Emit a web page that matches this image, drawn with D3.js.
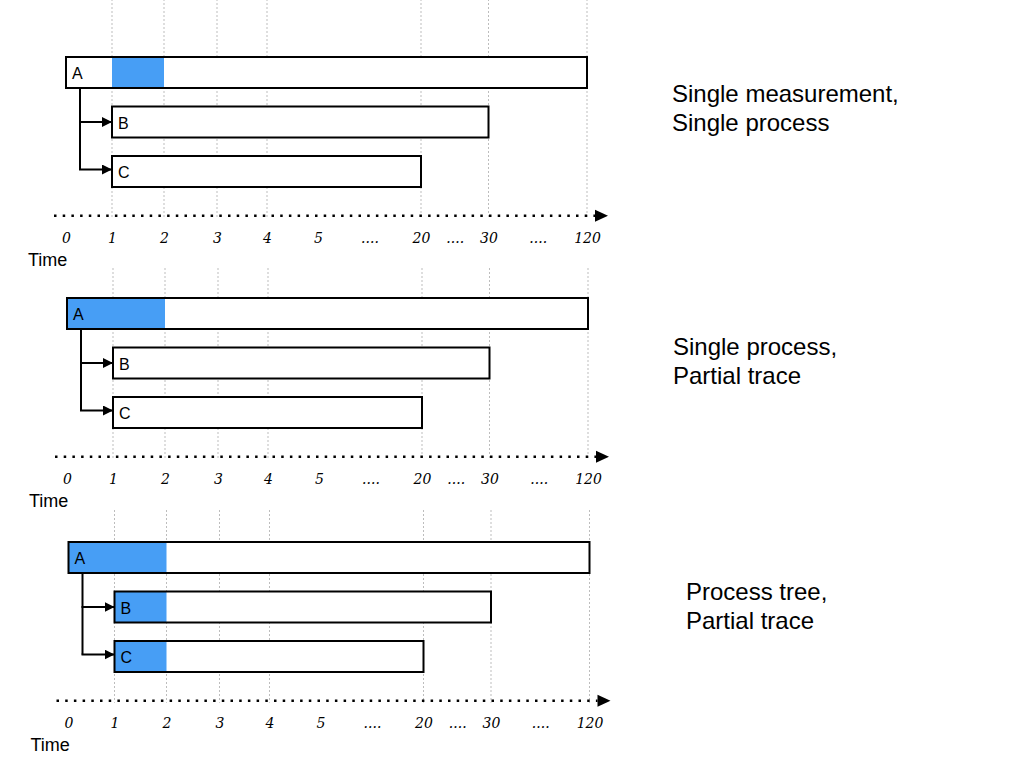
<!DOCTYPE html>
<html>
<head>
<meta charset="utf-8">
<script src="https://d3js.org/d3.v7.min.js"></script>
<style>
  body { margin: 0; background: #fff; }
  svg { display: block; }
</style>
</head>
<body>
<svg id="chart"></svg>
<script>
// processes and their lifetimes
const processes = ['A', 'B', 'C'];
const procStart = [0, 1, 1];
const procEnd = [120, 30, 20];

// one panel per tracing mode
const panelTitles = [
    ['Single measurement,', 'Single process'],
    ['Single process,', 'Partial trace'],
    ['Process tree,', 'Partial trace']
];
// traced window for each process in each panel (null = not traced)
const traceFrom = [[1, null, null], [0, null, null], [0, 1, 1]];
const traceTo = [[2, null, null], [2, null, null], [2, 2, 2]];

// broken time axis
const tickValues = [0, 1, 2, 3, 4, 5, 20, 30, 120];
const gapTicks = [12.5, 25, 75];   // the "...." labels sit in these gaps
const gridValues = [1, 2, 3, 4, 20, 30, 120];
const axisTitle = 'Time';

const width = 1024, height = 768;
const blue = '#479ef5';

const svg = d3.select('#chart')
    .attr('width', width)
    .attr('height', height);

// piecewise scale: the axis is not linear, the gaps are squeezed
const x = d3.scaleLinear()
    .domain(tickValues)
    .range([66, 112, 164, 217, 267, 318, 421, 488.5, 587]);

const rowY = d3.scalePoint()
    .domain(processes)
    .range([57, 156]);
const barH = 31;

// panel placement
const panelDx = [0, 1, 2.5];
const panelDy = [0, 241, 485];
const gridTop = [-5, 268, 510];
const titleX = [672, 673, 686];
const titleY = [102, 355, 600];
const axisY = 215.7;

svg.append('defs').append('marker')
    .attr('id', 'head')
    .attr('viewBox', '0 0 10 10')
    .attr('refX', 10)
    .attr('refY', 5)
    .attr('markerUnits', 'userSpaceOnUse')
    .attr('markerWidth', 10)
    .attr('markerHeight', 10)
    .attr('orient', 'auto')
    .append('path')
    .attr('d', 'M0,0L10,5L0,10Z')
    .attr('fill', '#000');

panelTitles.forEach((title, p) => {
    let g = svg.append('g')
        .attr('transform', `translate(${panelDx[p]},${panelDy[p]})`);

    // dotted grid
    g.selectAll('.grid')
        .data(gridValues)
        .enter()
        .append('line')
        .attr('class', 'grid')
        .attr('x1', d => x(d))
        .attr('x2', d => x(d))
        .attr('y1', gridTop[p] - panelDy[p])
        .attr('y2', axisY + 2)
        .attr('stroke', '#bdbdbd')
        .attr('stroke-width', 1)
        .attr('stroke-dasharray', '2,2');

    // parent -> child connectors
    let cx = x(procStart[0]) + 14;
    g.append('line')
        .attr('x1', cx).attr('x2', cx)
        .attr('y1', rowY('A') + barH)
        .attr('y2', rowY('C') + barH / 2 - 2)
        .attr('stroke', '#000')
        .attr('stroke-width', 2);

    g.selectAll('.link')
        .data(processes.slice(1))
        .enter()
        .append('line')
        .attr('class', 'link')
        .attr('x1', cx - 1)
        .attr('x2', (d, i) => x(procStart[i + 1]))
        .attr('y1', d => rowY(d) + barH / 2 - (d === 'C' ? 2 : 0))
        .attr('y2', d => rowY(d) + barH / 2 - (d === 'C' ? 2 : 0))
        .attr('stroke', '#000')
        .attr('stroke-width', 2)
        .attr('marker-end', 'url(#head)');

    // bars
    let bars = g.selectAll('.proc')
        .data(processes)
        .enter()
        .append('g')
        .attr('class', 'proc');

    bars.append('rect')
        .attr('x', (d, i) => x(procStart[i]))
        .attr('y', d => rowY(d))
        .attr('width', (d, i) => x(procEnd[i]) - x(procStart[i]))
        .attr('height', barH)
        .attr('fill', '#fff');

    bars.filter((d, i) => traceFrom[p][i] !== null)
        .append('rect')
        .attr('x', d => x(traceFrom[p][processes.indexOf(d)]))
        .attr('y', d => rowY(d))
        .attr('width', d => {
            let i = processes.indexOf(d);
            return x(traceTo[p][i]) - x(traceFrom[p][i]);
        })
        .attr('height', barH)
        .attr('fill', blue);

    bars.append('rect')
        .attr('x', (d, i) => x(procStart[i]))
        .attr('y', d => rowY(d))
        .attr('width', (d, i) => x(procEnd[i]) - x(procStart[i]))
        .attr('height', barH)
        .attr('fill', 'none')
        .attr('stroke', '#000')
        .attr('stroke-width', 2);

    bars.append('text')
        .attr('x', (d, i) => x(procStart[i]) + 6)
        .attr('y', d => rowY(d) + 22)
        .attr('font-family', 'Liberation Sans, Arial, sans-serif')
        .attr('font-size', 16)
        .text(d => d);

    // dotted time axis with arrow
    g.append('line')
        .attr('x1', x(0) - 12)
        .attr('x2', x(120) + 8)
        .attr('y1', axisY)
        .attr('y2', axisY)
        .attr('stroke', '#000')
        .attr('stroke-width', 2.5)
        .attr('stroke-dasharray', '2.5,6.2');
    g.append('path')
        .attr('d', `M${x(120) + 8},${axisY - 6}L${x(120) + 21},${axisY}L${x(120) + 8},${axisY + 6}Z`)
        .attr('fill', '#000');

    let axis = d3.axisBottom(x)
        .tickValues(tickValues.concat(gapTicks))
        .tickSize(0)
        .tickPadding(17)
        .tickFormat(d => gapTicks.includes(d) ? '....' : d);

    let axisG = g.append('g')
        .attr('transform', `translate(0,${axisY})`)
        .call(axis);
    axisG.select('.domain').remove();
    axisG.selectAll('text')
        .attr('font-family', 'DejaVu Serif, serif')
        .attr('font-style', 'italic')
        .attr('font-size', 14)
        .attr('fill', '#000');

    g.append('text')
        .attr('x', 28)
        .attr('y', axisY + 50)
        .attr('font-family', 'Liberation Sans, Arial, sans-serif')
        .attr('font-size', 18)
        .text(axisTitle);

    // panel title on the right
    svg.append('text')
        .attr('x', titleX[p])
        .attr('y', titleY[p])
        .attr('font-family', 'Liberation Sans, Arial, sans-serif')
        .attr('font-size', 24)
        .selectAll('tspan')
        .data(title)
        .enter()
        .append('tspan')
        .attr('x', titleX[p])
        .attr('dy', (d, i) => i === 0 ? 0 : 29)
        .text(d => d);
});
</script>
</body>
</html>
